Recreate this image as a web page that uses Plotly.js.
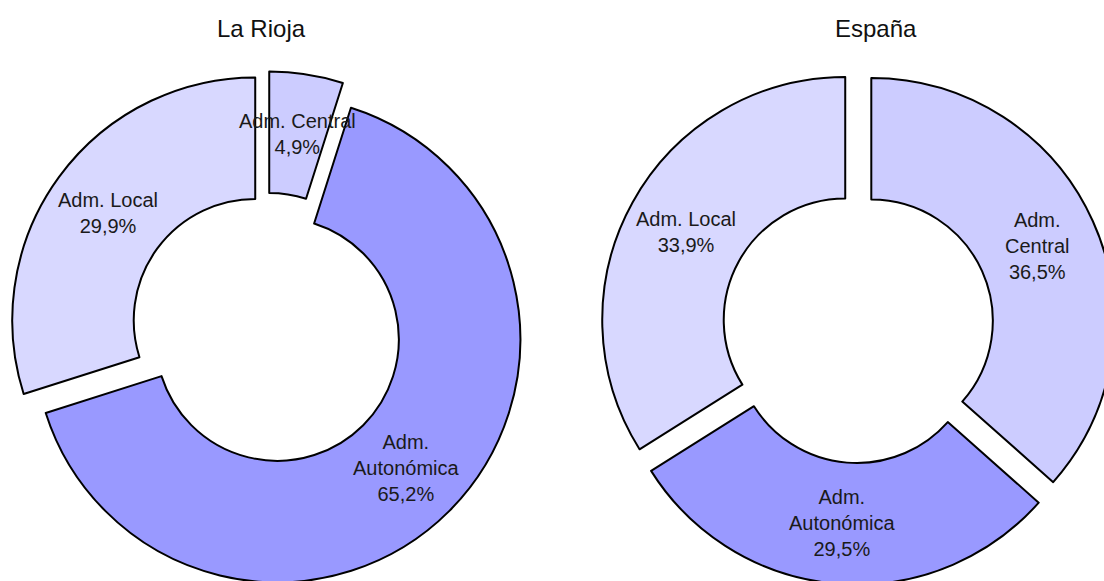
<!DOCTYPE html>
<html>
<head>
<meta charset="utf-8">
<script src="https://cdn.plot.ly/plotly-3.0.1.min.js"></script>
<style>
html,body{margin:0;padding:0;overflow:hidden;background:#fff;width:1104px;height:581px;}
#chart{width:1120px;height:590px;}
</style>
</head>
<body>
<div id="chart"></div>
<script>
// ---- data ----
var categories = ["Adm. Central", "Adm. Autonómica", "Adm. Local"];
var riojaLabels = ["Adm. Central", "Adm.<br>Autonómica", "Adm. Local"];
var espanaLabels = ["Adm.<br>Central", "Adm.<br>Autonómica", "Adm. Local"];
var riojaValues = [4.9, 65.2, 29.9];
var espanaValues = [36.5, 29.5, 33.9];
var chartTitles = ["La Rioja", "España"];
var sliceColors = ["#ccccff", "#9999ff", "#d8d8ff"];

// ---- layout constants ----
var W = 1120, H = 590;
var PULL = 0.06, HOLE = 0.5, R = 243;
var pies = [
  {cx: 267, cy: 329, values: riojaValues, labels: riojaLabels, title: chartTitles[0], tx: 261},
  {cx: 858, cy: 327, values: espanaValues, labels: espanaLabels, title: chartTitles[1], tx: 876}
];
var FONT = '"Liberation Sans", Arial, Helvetica, sans-serif';

var traces = [], annotations = [];
pies.forEach(function (p) {
  var half = R * (1 + PULL);
  traces.push({
    type: 'pie',
    labels: categories,
    values: p.values,
    sort: false,
    direction: 'clockwise',
    rotation: 0,
    hole: HOLE,
    pull: PULL,
    textinfo: 'none',
    hoverinfo: 'label+value',
    showlegend: false,
    marker: {colors: sliceColors, line: {color: '#000', width: 2}},
    domain: {
      x: [(p.cx - half) / W, (p.cx + half) / W],
      y: [1 - (p.cy + half) / H, 1 - (p.cy - half) / H]
    }
  });
  // labels placed at the middle of each ring slice (computed from the values)
  var total = p.values.reduce(function (a, b) { return a + b; }, 0);
  var cum = 0;
  var rText = R * (1 + HOLE) / 2 + PULL * R;
  p.values.forEach(function (v, i) {
    var mid = (cum + v / 2) / total * 2 * Math.PI;
    cum += v;
    var x = p.cx + rText * Math.sin(mid);
    var y = p.cy - rText * Math.cos(mid);
    annotations.push({
      xref: 'paper', yref: 'paper',
      x: x / W, y: 1 - y / H,
      xanchor: 'center', yanchor: 'middle',
      showarrow: false,
      text: p.labels[i] + '<br>' + v.toFixed(1).replace('.', ',') + '%',
      font: {family: FONT, size: 20, color: '#1a1a1a'}
    });
  });
  annotations.push({
    xref: 'paper', yref: 'paper',
    x: p.tx / W, y: 1 - 28 / H,
    xanchor: 'center', yanchor: 'middle',
    showarrow: false,
    text: p.title,
    font: {family: FONT, size: 24, color: '#111'}
  });
});

var layout = {
  width: W, height: H,
  margin: {l: 0, r: 0, t: 0, b: 0},
  paper_bgcolor: '#fff',
  separators: ',.',
  font: {family: FONT},
  annotations: annotations
};

Plotly.newPlot('chart', traces, layout, {displayModeBar: false, staticPlot: true});
</script>
</body>
</html>
